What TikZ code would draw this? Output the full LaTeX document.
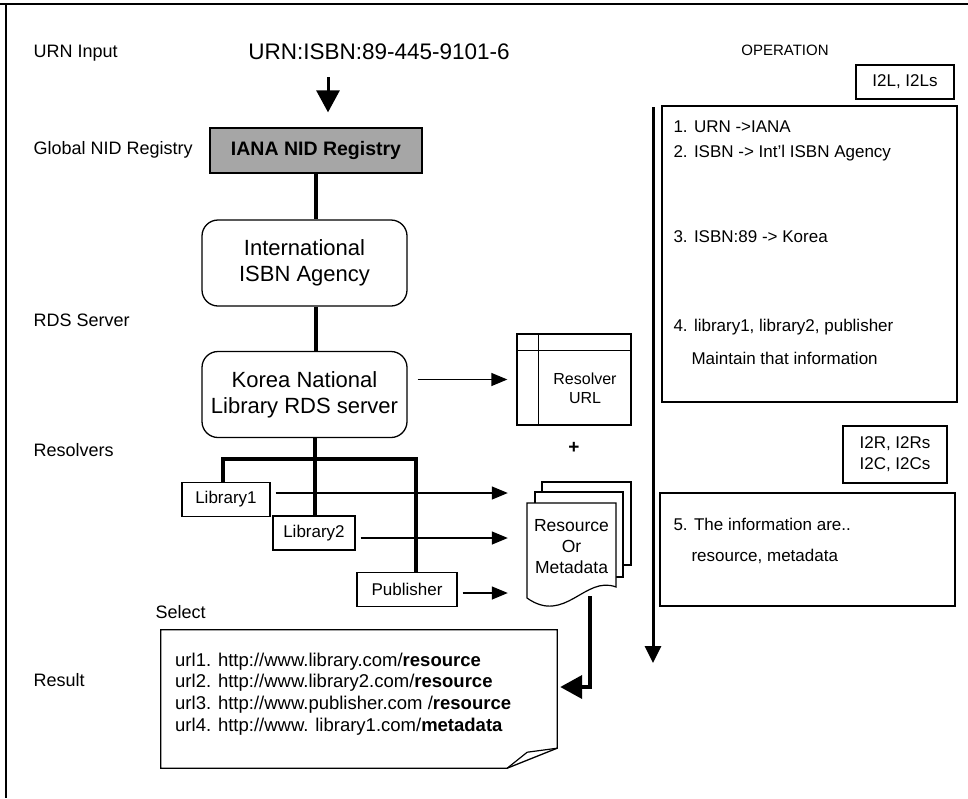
\documentclass[tikz,border=0pt]{standalone}
\usepackage{fontspec}
\setmainfont{Liberation Sans}
\usetikzlibrary{arrows.meta,positioning,calc}

\tikzset{
  rowlbl/.style={anchor=west, font=\fontsize{18}{21}\selectfont},
  agency/.style={draw, line width=1.3pt, rounded corners=16pt, minimum width=205pt, minimum height=86pt, align=center, font=\fontsize{22}{26}\selectfont},
  smallbox/.style={draw, line width=1.2pt, minimum height=34pt, inner sep=0pt, font=\fontsize{17}{20}\selectfont},
  opbox/.style={draw, line width=1.2pt, minimum width=295pt},
  steptxt/.style={anchor=west, font=\fontsize{17}{20}\selectfont},
  trunk/.style={line width=3.5pt},
  arr/.style={line width=1.3pt, -{Triangle[length=16pt,width=13pt]}},
  bigarr/.style={line width=4pt, -{Triangle[length=22pt,width=23pt]}},
}

\begin{document}
\begin{tikzpicture}[x=1pt, y=-1pt]
    \useasboundingbox (0,0) rectangle (968,798);
    \draw[line width=1.2pt] (0,4) -- (968,4);
    \draw[line width=1.2pt] (6,4) -- (6,798);

    % Row labels
    \foreach \y/\txt in {53/URN Input, 150/Global NID Registry, 320/RDS Server, 450/Resolvers, 680/Result}
        \node[rowlbl] (row\y) at (30,\y) {\txt};
    \node[rowlbl] (select) at (152,612) {Select};

    \node[font=\fontsize{22.5}{26}\selectfont] (urn) at (379,52) {URN:ISBN:89-445-9101-6};
    \node[font=\fontsize{15}{17}\selectfont] (oper) at (785,50) {OPERATION};

    % Resolution chain
    \node[draw, line width=1.3pt, fill=black!35, minimum width=212pt, minimum height=45pt, font=\bfseries\fontsize{19.5}{22}\selectfont] (iana) at (316,150.5) {IANA NID Registry};
    \node[agency] (isbn) at (304.5,263) {International\\ISBN Agency};
    \node[agency] (korea) at (304.5,394.5) {Korea National\\Library RDS server};

    \coordinate (urnarr) at (328,77);
    \draw[bigarr, line width=3pt, shorten >=15pt] (urnarr) -- (urnarr |- iana.north);
    \draw[trunk] (iana.south) -- (iana.south |- isbn.north);
    \draw[trunk] (iana.south |- isbn.south) -- (iana.south |- korea.north);

    % Resolvers
    \node[smallbox, minimum width=88pt] (lib1) at (226,499.5) {Library1};
    \node[smallbox, minimum width=82pt] (lib2) at (314,533) {Library2};
    \node[smallbox, minimum width=100pt] (pub) at (407,589.5) {Publisher};

    \coordinate (bus) at (315,459);
    \draw[trunk] (korea.south -| bus) -- (lib2.north -| bus);
    \draw[trunk] ([xshift=-3pt]lib1.north) |- (bus) -| ([xshift=9pt]pub.north);

    % Resolver URL table
    \node[draw, line width=1.3pt, minimum width=114pt, minimum height=91pt] (resolver) at (574,379.5) {};
    \draw[line width=1.3pt] ($(resolver.north west)+(0,17)$) -- ($(resolver.north east)+(0,17)$);
    \draw[line width=1.3pt] ($(resolver.north west)+(22,0)$) -- ($(resolver.south west)+(22,0)$);
    \node[font=\fontsize{16}{19}\selectfont, align=center] (resurl) at (585,388) {Resolver\\URL};
    \draw[arr, shorten >=9pt] ($(korea.east |- resolver.west)+(10,0)$) -- (resolver.west);
    \node[font=\bfseries\fontsize{19}{20}\selectfont] (plus) at (574,448) {+};

    % Document stack
    \filldraw[fill=white, line width=1.2pt] (542,482) rectangle (631,565);
    \filldraw[fill=white, line width=1.2pt] (535,492) rectangle (623,577);
    \filldraw[fill=white, line width=1.2pt] (527,503) -- (616,503) -- (616,587) .. controls (585,575) and (565,625) .. (527,598) -- cycle;
    \node[font=\fontsize{17.5}{21}\selectfont, align=center, minimum width=89pt] (docs) at (571.5,547) {Resource\\Or\\Metadata};

    \foreach \src/\dy in {lib1/-6.5, lib2/5, pub/3.5}
        \draw[arr, shorten <=5pt, shorten >=19pt] ($(\src.east)+(0,\dy)$) -- ($(\src.east -| docs.west)+(0,\dy)$);

    % Result
    \node[minimum width=396pt, minimum height=138pt, inner sep=0pt] (result) at (359,699) {};
    \draw[line width=1.3pt] (result.north west) -- (result.north east) -- ($(result.south east)+(0,-20)$) -- ($(result.south east)+(-50,0)$) -- (result.south west) -- cycle;
    \draw[line width=1.2pt] ($(result.south east)+(-50,0)$) -- ($(result.south east)+(-30,-16)$) -- ($(result.south east)+(0,-20)$);
    \node[anchor=west, align=left, inner sep=0pt, font=\fontsize{18.5}{21.7}\selectfont] (urls) at (175,694) {url1. http://www.library.com/\textbf{resource}\\url2. http://www.library2.com/\textbf{resource}\\url3. http://www.publisher.com /\textbf{resource}\\url4. http://www. library1.com/\textbf{metadata}};

    \coordinate (docout) at (590,596);
    \draw[bigarr, shorten >=3pt] (docout) |- ($(result.east)+(0,-12)$);

    % Operation column
    \node[smallbox, minimum width=98pt] (i2l) at (905,82) {I2L, I2Ls};
    \node[opbox, minimum height=296pt] (op1) at (809.5,254) {};
    \node[draw, line width=1.2pt, minimum width=104pt, minimum height=57pt, align=center, font=\fontsize{17}{21}\selectfont] (i2r) at (895,454.5) {I2R, I2Rs\\I2C, I2Cs};
    \node[opbox, minimum height=113pt] (op2) at (807.5,549.5) {};

    \foreach \x/\y/\txt in {670/127/{1. URN ->IANA}, 670/153/{2. ISBN -> Int'l ISBN Agency}, 670/237/{3. ISBN:89 -> Korea}, 670/327/{4. library1, library2, publisher}, 688/358/{Maintain that information}, 670/524/{5. The information are..}, 688/556/{resource, metadata}}
        \node[steptxt] (step\y) at (\x,\y) {\txt};

    \coordinate (optop) at (653,107);
    \coordinate (opend) at (653,663);
    \draw[line width=3pt, -{Triangle[length=17pt,width=16pt]}] (optop) -- (opend);
\end{tikzpicture}
\end{document}
